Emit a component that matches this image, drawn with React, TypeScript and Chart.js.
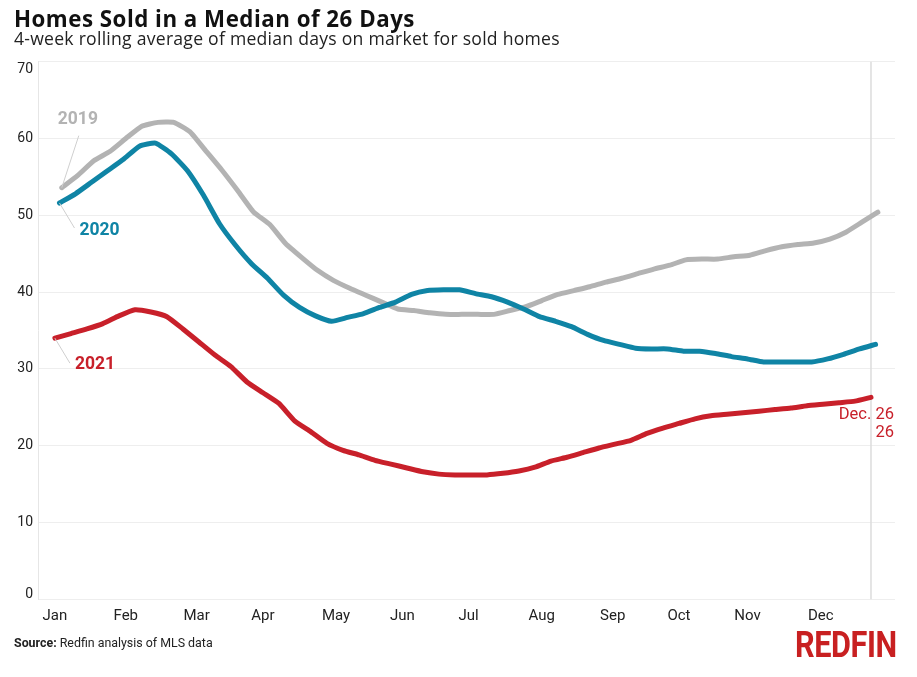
import React, { useEffect, useRef } from "react";
import { Chart, registerables } from "chart.js";

Chart.register(...registerables);

// ---- Data ----
const MONTHS = ["Jan", "Feb", "Mar", "Apr", "May", "Jun", "Jul", "Aug", "Sep", "Oct", "Nov", "Dec"];
const MONTH_TICK_DAYS = [3, 34, 65, 94, 126, 155, 184, 216, 247, 276, 306, 338];
const Y_TICKS = [0, 10, 20, 30, 40, 50, 60, 70];

// day-of-year of first weekly point in each year
const START_2019 = 6;
const START_2020 = 5;
const START_2021 = 3;
const MARK_DAY = 360; // Dec. 26

const SERIES_2019 = [
  53.6, 55.2, 57.1, 58.3, 60.0, 61.6, 62.1, 62.1, 60.9, 58.4,
  55.9, 53.2, 50.4, 48.8, 46.3, 44.5, 42.8, 41.5, 40.5, 39.6,
  38.7, 37.8, 37.6, 37.3, 37.1, 37.1, 37.1, 37.1, 37.6, 38.1,
  38.9, 39.7, 40.2, 40.7, 41.3, 41.8, 42.4, 43.0, 43.5, 44.2,
  44.3, 44.3, 44.6, 44.8, 45.4, 45.9, 46.2, 46.4, 46.9, 47.8,
  49.1, 50.4,
];
const SERIES_2020 = [
  51.6, 52.8, 54.3, 55.8, 57.3, 59.0, 59.4, 58.0, 55.8, 52.6,
  48.9, 46.1, 43.7, 41.8, 39.6, 38.0, 36.9, 36.2, 36.7, 37.2,
  38.0, 38.7, 39.7, 40.2, 40.3, 40.3, 39.8, 39.4, 38.7, 37.8,
  36.8, 36.2, 35.5, 34.5, 33.7, 33.2, 32.7, 32.6, 32.6, 32.3,
  32.3, 32.0, 31.6, 31.3, 30.9, 30.9, 30.9, 30.9, 31.3, 31.9,
  32.6, 33.2,
];
const SERIES_2021 = [
  34.0, 34.6, 35.2, 35.9, 36.9, 37.7, 37.4, 36.8, 35.2, 33.5,
  31.8, 30.3, 28.3, 26.9, 25.5, 23.2, 21.8, 20.3, 19.4, 18.8,
  18.1, 17.6, 17.1, 16.6, 16.3, 16.2, 16.2, 16.2, 16.4, 16.7,
  17.2, 18.0, 18.5, 19.1, 19.7, 20.2, 20.7, 21.6, 22.3, 22.9,
  23.5, 23.9, 24.1, 24.3, 24.5, 24.7, 24.9, 25.2, 25.4, 25.6,
  25.8, 26.3,
];

const C2019 = "#b3b3b3";
const C2020 = "#0f84a5";
const C2021 = "#c8202a";
const FONT = "Roboto, 'Noto Sans', sans-serif";
const HEAD_FONT = "'Open Sans', Roboto, sans-serif";

const toPoints = (start: number, vals: number[]) => vals.map((v, i) => ({ x: start + i * 7, y: v }));

const annotPlugin = {
  id: "annot",
  beforeDatasetsDraw(chart: any) {
    const { ctx, chartArea, scales } = chart;
    const lx = scales.x.getPixelForValue(MARK_DAY);
    ctx.save();
    ctx.strokeStyle = "#dcdcdc";
    ctx.lineWidth = 1.5;
    ctx.beginPath();
    ctx.moveTo(lx, chartArea.top);
    ctx.lineTo(lx, chartArea.bottom);
    ctx.stroke();
    ctx.restore();
  },
  afterDatasetsDraw(chart: any) {
    const { ctx } = chart;
    const labels = [
      { ds: 2, text: "2019", color: C2019, lead: [17, -52], txt: [-4, -64] },
      { ds: 1, text: "2020", color: C2020, lead: [15, 25], txt: [20, 32] },
      { ds: 0, text: "2021", color: C2021, lead: [15, 25], txt: [20, 31] },
    ];
    ctx.save();
    for (const l of labels) {
      const p = chart.getDatasetMeta(l.ds).data[0];
      ctx.strokeStyle = "#cfcfcf";
      ctx.lineWidth = 1;
      ctx.beginPath();
      ctx.moveTo(p.x, p.y);
      ctx.lineTo(p.x + l.lead[0], p.y + l.lead[1]);
      ctx.stroke();
      ctx.fillStyle = l.color;
      ctx.font = `bold 17.5px ${FONT}`;
      ctx.textAlign = "left";
      ctx.textBaseline = "alphabetic";
      ctx.fillText(l.text, p.x + l.txt[0], p.y + l.txt[1]);
    }
    // end label for 2021
    const meta = chart.getDatasetMeta(0);
    const last = meta.data[meta.data.length - 1];
    ctx.fillStyle = C2021;
    ctx.font = `16.5px ${FONT}`;
    ctx.textAlign = "right";
    ctx.fillText("Dec. 26", last.x + 23, last.y + 22);
    ctx.fillText(String(Math.round(SERIES_2021[SERIES_2021.length - 1])), last.x + 23, last.y + 40);
    ctx.restore();
  },
  afterDraw(chart: any) {
    const { ctx, chartArea, scales } = chart;
    ctx.save();
    ctx.fillStyle = "#222";
    ctx.font = `14px ${FONT}`;
    ctx.textAlign = "right";
    ctx.textBaseline = "middle";
    for (const v of Y_TICKS) {
      let y = scales.y.getPixelForValue(v);
      y = Math.max(chartArea.top + 8, Math.min(chartArea.bottom - 5, y));
      ctx.fillText(String(v), 33, y);
    }
    ctx.restore();
  },
};

function LineChart() {
  const ref = useRef<HTMLCanvasElement | null>(null);
  useEffect(() => {
    if (!ref.current) return;
    const chart = new Chart(ref.current, {
      type: "line",
      data: {
        datasets: [
          { label: "2021", data: toPoints(START_2021, SERIES_2021), borderColor: C2021 },
          { label: "2020", data: toPoints(START_2020, SERIES_2020), borderColor: C2020 },
          { label: "2019", data: toPoints(START_2019, SERIES_2019), borderColor: C2019 },
        ].map((d) => ({
          ...d,
          borderWidth: 5,
          pointRadius: 0,
          tension: 0.15,
          borderCapStyle: "round" as const,
          borderJoinStyle: "round" as const,
          fill: false,
        })),
      },
      options: {
        responsive: false,
        animation: false,
        layout: { padding: { left: 8, right: 22, top: 61.7, bottom: 0 } },
        plugins: { legend: { display: false }, tooltip: { enabled: false }, title: { display: false } },
        scales: {
          x: {
            type: "linear",
            min: -4.4,
            max: 370.5,
            grid: { display: false, drawTicks: false },
            border: { display: false },
            afterBuildTicks: (s: any) => {
              s.ticks = MONTH_TICK_DAYS.map((v) => ({ value: v }));
            },
            afterFit: (s: any) => {
              s.height = 677 - 599.3;
            },
            ticks: {
              autoSkip: false,
              maxRotation: 0,
              padding: 8,
              color: "#222",
              font: { family: FONT, size: 15 },
              callback: (_v: any, i: number) => MONTHS[i],
            },
          },
          y: {
            min: 0,
            max: 70,
            afterBuildTicks: (s: any) => {
              s.ticks = Y_TICKS.map((v) => ({ value: v }));
            },
            afterFit: (s: any) => {
              s.width = 30;
            },
            ticks: { display: false },
            grid: { color: "#eeeeee", lineWidth: 1, drawTicks: false },
            border: { display: true, color: "#e6e6e6", width: 1 },
          },
        },
      },
      plugins: [annotPlugin],
    });
    return () => chart.destroy();
  }, []);
  return <canvas ref={ref} width={917} height={677} style={{ position: "absolute", left: 0, top: 0 }} />;
}

export default function App() {
  const base: React.CSSProperties = { position: "absolute", whiteSpace: "nowrap", lineHeight: 1, fontFamily: FONT };
  return (
    <div style={{ position: "absolute", left: 0, top: 0, width: 917, height: 677, background: "#fff", overflow: "hidden" }}>
      <LineChart />
      <div
        style={{ ...base, left: 14, top: 7.5, fontSize: 22.3, fontWeight: 700, color: "#111", fontFamily: HEAD_FONT, letterSpacing: 0.5 }}
      >
        Homes Sold in a Median of 26 Days
      </div>
      <div style={{ ...base, left: 14, top: 30.4, fontSize: 17.6, color: "#222", fontFamily: HEAD_FONT, letterSpacing: 0.25 }}>
        4-week rolling average of median days on market for sold homes
      </div>
      <div style={{ ...base, left: 14, top: 637, fontSize: 12.4, color: "#222" }}>
        <span style={{ fontWeight: 700 }}>Source:</span> Redfin analysis of MLS data
      </div>
      <div
        style={{
          ...base,
          left: 795,
          top: 627,
          fontSize: 36.5,
          fontWeight: 700,
          color: "#c82021",
          transform: "scaleX(0.84)",
          transformOrigin: "left top",
          letterSpacing: -0.5,
        }}
      >
        REDFIN
      </div>
    </div>
  );
}
